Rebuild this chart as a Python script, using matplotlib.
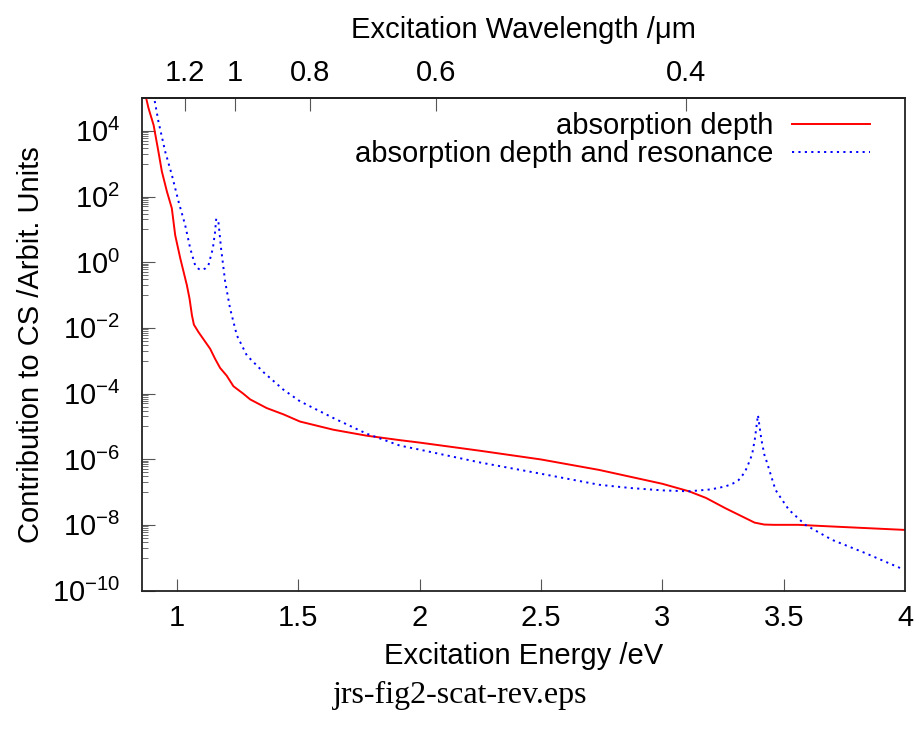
import matplotlib
matplotlib.use("Agg")
import matplotlib.pyplot as plt
import numpy as np
from matplotlib.ticker import FixedLocator, FixedFormatter, NullLocator

plt.rcParams['font.family'] = ['Liberation Sans', 'DejaVu Sans']
plt.rcParams['mathtext.default'] = 'regular'

# ---- data ----
energy_red = [0.870, 0.883, 0.904, 0.924, 0.938, 0.959, 0.979, 0.993, 1.014, 1.041, 1.052,
              1.062, 1.070, 1.089, 1.137, 1.157, 1.178, 1.205, 1.233, 1.274, 1.302, 1.370,
              1.440, 1.507, 1.644, 1.781, 1.918, 2.0, 2.25, 2.5, 2.74, 3.0, 3.11, 3.18, 3.26,
              3.33, 3.38, 3.42, 3.46, 3.56, 3.70, 4.0]
cs_red = [1.26e5, 4.9e4, 1.5e4, 2.3e3, 5.8e2, 1.4e2, 4.4e1, 6.6, 1.3, 0.20, 7.8e-2,
          2.4e-2, 1.25e-2, 7.4e-3, 2.3e-3, 1.15e-3, 6.0e-4, 3.5e-4, 1.66e-4, 9.8e-5, 6.6e-5, 3.6e-5,
          2.3e-5, 1.4e-5, 7.9e-6, 5.2e-6, 3.8e-6, 3.2e-6, 1.8e-6, 9.8e-7, 4.7e-7, 1.78e-7, 1.05e-7,
          6.6e-8, 3.2e-8, 1.78e-8, 1.17e-8, 1.02e-8, 1.0e-8, 1.0e-8, 8.9e-9, 7.0e-9]

energy_blue = [0.904, 0.924, 0.952, 0.979, 1.007, 1.034, 1.055, 1.075, 1.090, 1.103, 1.118,
               1.130, 1.148, 1.157, 1.162, 1.171, 1.182, 1.199, 1.219, 1.247, 1.288, 1.356,
               1.438, 1.507, 1.644, 1.781, 1.918, 2.0, 2.25, 2.5, 2.74, 2.87, 3.0, 3.11, 3.20,
               3.26, 3.29, 3.314, 3.34, 3.356, 3.37, 3.381, 3.394, 3.408, 3.42, 3.432, 3.45,
               3.466, 3.49, 3.521, 3.589, 3.699, 3.836, 3.99]
cs_blue = [1.26e5, 1.9e4, 2.3e3, 4.6e2, 6.9e1, 1.35e1, 2.6, 0.81, 0.62, 0.58, 0.65,
           0.81, 2.6, 8.0, 21.0, 17.0, 2.6, 0.25, 3.9e-2, 5.9e-3, 1.45e-3, 4.5e-4,
           1.32e-4, 5.8e-5, 1.8e-5, 6.0e-6, 2.6e-6, 1.95e-6, 7.9e-7, 3.6e-7, 1.66e-7, 1.32e-7, 1.12e-7,
           1.05e-7, 1.2e-7, 1.48e-7, 1.8e-7, 2.3e-7, 4.0e-7, 7.6e-7, 1.4e-6, 4.0e-6, 2.2e-5, 4.0e-6,
           1.4e-6, 7.6e-7, 2.8e-7, 1.17e-7, 6.3e-8, 2.9e-8, 1.0e-8, 3.5e-9, 1.38e-9, 4.5e-10]

labels = ["absorption depth", "absorption depth and resonance"]
x_ticks = [1, 1.5, 2, 2.5, 3, 3.5]
x_ticklabels = ["1", "1.5", "2", "2.5", "3", "3.5", "4"]
y_major = [1e-10, 1e-8, 1e-6, 1e-4, 1e-2, 1e0, 1e2, 1e4]
y_ticklabels = [r"$10^{-10}$", r"$10^{-8}$", r"$10^{-6}$", r"$10^{-4}$", r"$10^{-2}$",
                r"$10^{0}$", r"$10^{2}$", r"$10^{4}$"]
wl_ticks = [1.2, 1.0, 0.8, 0.6, 0.4]
wl_ticklabels = ["1.2", "1", "0.8", "0.6", "0.4"]
HC = 1.2398  # eV*um

FS = 21
fig = plt.figure(figsize=(9.22, 7.33), dpi=100)
ax = fig.add_axes([0.1537, 0.1944, 0.9816 - 0.1537, 0.8663 - 0.1944])

ax.plot(energy_red, cs_red, color='#ff0000', lw=1.4, label=labels[0])
ax.plot(energy_blue, cs_blue, color='#0000ff', lw=1.4, dashes=(1.1, 2.2), label=labels[1])

ax.set_yscale('log')
ax.set_xlim(0.855, 4.0)
ax.set_ylim(1e-10, 1e5)

# x ticks (bottom)
ax.xaxis.set_major_locator(FixedLocator(x_ticks + [4.0]))
ax.xaxis.set_major_formatter(FixedFormatter(x_ticklabels))
ax.xaxis.set_minor_locator(NullLocator())
ax.tick_params(axis='x', which='major', direction='in', length=9, width=0.8,
               labelsize=FS, pad=9.5, top=False, color='#555555')
ax.get_xticklines()[-2].set_visible(False)

# y ticks
ax.yaxis.set_major_locator(FixedLocator(y_major))
ax.yaxis.set_major_formatter(FixedFormatter(y_ticklabels))
minors = []
for k in range(-9, 5, 2):
    for m in range(1, 10):
        v = m * 10.0 ** k
        if 1e-10 <= v <= 1e5:
            minors.append(v)
ax.yaxis.set_minor_locator(FixedLocator(minors))
ax.yaxis.set_minor_formatter(FixedFormatter([""] * len(minors)))
ax.tick_params(axis='y', which='major', direction='in', length=9, width=0.8,
               labelsize=FS, pad=15.5, right=False, color='#555555')
ax.tick_params(axis='y', which='minor', direction='in', length=4.5, width=0.6,
               right=False, color='#555555')

for s in ax.spines.values():
    s.set_linewidth(1.3)
    s.set_color('#222222')

ax.set_xlabel("Excitation Energy /eV", fontsize=FS, labelpad=7.5)
ax.set_ylabel("Contribution to CS /Arbit. Units", fontsize=FS, labelpad=5)

# top axis: wavelength
def e2w(e):
    e = np.asarray(e, dtype=float)
    return HC / e

secax = ax.secondary_xaxis('top', functions=(e2w, e2w))
secax.xaxis.set_major_locator(FixedLocator(wl_ticks))
secax.xaxis.set_major_formatter(FixedFormatter(wl_ticklabels))
secax.xaxis.set_minor_locator(NullLocator())
secax.tick_params(axis='x', direction='in', length=9, width=0.8, labelsize=FS, pad=8,
                  color='#555555')
secax.spines['top'].set_linewidth(1.3)
secax.set_xlabel("Excitation Wavelength /μm", fontsize=FS, labelpad=15)

leg = ax.legend(loc='upper right', frameon=False, markerfirst=False, fontsize=FS,
                handlelength=2.67, handletextpad=0.65, labelspacing=0.02,
                borderaxespad=0, borderpad=0, bbox_to_anchor=(0.954, 0.972))

fig.text(0.499, 0.0505, "jrs-fig2-scat-rev.eps", fontsize=23, family='Liberation Serif',
         ha='center', va='center')

fig.savefig("out.png", dpi=100)
